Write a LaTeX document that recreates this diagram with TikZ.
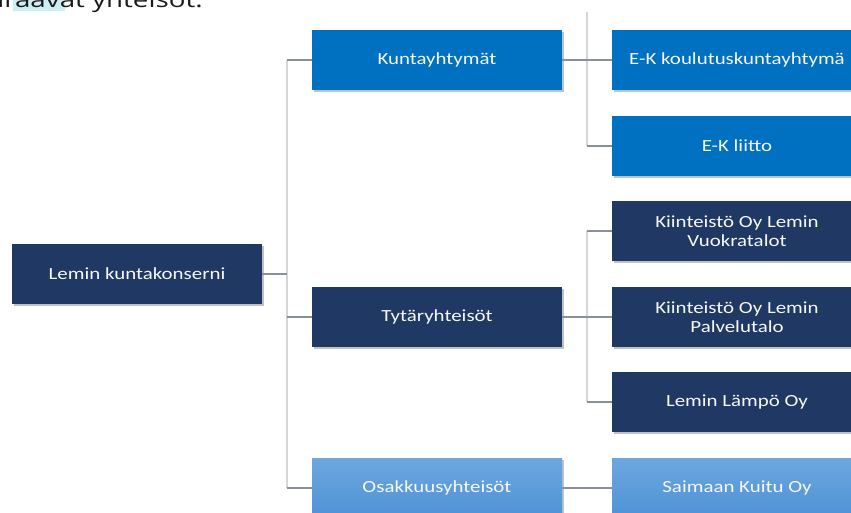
\documentclass[tikz,border=0pt]{standalone}
\usepackage{fontspec}
\setmainfont{Carlito}[FakeStretch=1.23]
\newfontfamily\topfont{Open Sans}[FakeStretch=1.3]
\usetikzlibrary{shadows}
\definecolor{navy}{HTML}{1F3864}
\definecolor{midblue}{HTML}{0070C0}
\definecolor{lbtop}{HTML}{6DA7DE}
\definecolor{lbbot}{HTML}{4E92D7}
\definecolor{hlcyan}{HTML}{CDEEF3}
\definecolor{vgray}{HTML}{D6D6D6}
\definecolor{hgray}{HTML}{8A9099}
\tikzset{
  box/.style={draw=none, minimum width=187.5pt, minimum height=45pt, inner sep=0pt,
    align=center, text=white!94!gray, font=\fontsize{12.75}{14.5}\selectfont,
    drop shadow={shadow xshift=1.2pt, shadow yshift=-1.5pt, opacity=0.35, fill=black!70}},
  navybox/.style={box, fill=navy},
  bluebox/.style={box, fill=midblue},
  lightbox/.style={box, top color=lbtop, bottom color=lbbot},
  vline/.style={draw=vgray, line width=0.8pt},
  hline/.style={draw=hgray, line width=0.8pt},
}
\begin{document}
\begin{tikzpicture}[x=0.75pt, y=-0.75pt]
\useasboundingbox (0,0) rectangle (851,512);
% top text (cut off)
\fill[hlcyan] (13,-2) rectangle (65,11);
\node[anchor=base east, inner sep=0pt, font=\topfont\fontsize{16}{18}\selectfont, text=black!90] (toptext) at (203,7) {seuraavat yhteisöt.};
% bus coordinates
\coordinate (b1top) at (287,60);
\coordinate (b1bot) at (287,488);
\coordinate (b2top) at (587,12);
\coordinate (b2bot) at (587,146);
\coordinate (b3top) at (587,231);
\coordinate (b3bot) at (587,402);
% connectors (drawn first, under boxes)
\draw[vline] (b1top) -- (b1bot);
\draw[vline] (b2top) -- (b2bot);
\draw[vline] (b3top) -- (b3bot);
% nodes
\node[navybox] (lemin) at (137,274) {Lemin kuntakonserni};
\node[bluebox] (kunta) at (437,60) {Kuntayhtymät};
\node[navybox] (tytar) at (437,317) {Tytäryhteisöt};
\node[lightbox] (osak) at (437,488) {Osakkuusyhteisöt};
\node[bluebox] (ekk) at (737,60) {E-K koulutuskuntayhtymä};
\node[bluebox] (ekl) at (737,146) {E-K liitto};
\node[navybox] (vuok) at (737,231) {Kiinteistö Oy Lemin\\Vuokratalot};
\node[navybox] (palv) at (737,317) {Kiinteistö Oy Lemin\\Palvelutalo};
\node[navybox] (lampo) at (737,402) {Lemin Lämpö Oy};
\node[lightbox] (saim) at (737,488) {Saimaan Kuitu Oy};
% horizontal connectors
\draw[hline] (lemin.east) -- (lemin.east -| b1top);
\draw[hline] (b1top) -- (kunta.west);
\draw[hline] (tytar.west -| b1top) -- (tytar.west);
\draw[hline] (b1bot) -- (osak.west);
\draw[hline] (kunta.east) -- (ekk.west);
\draw[hline] (b2bot) -- (ekl.west);
\draw[hline] (b3top) -- (vuok.west);
\draw[hline] (tytar.east) -- (palv.west);
\draw[hline] (b3bot) -- (lampo.west);
\draw[hline] (osak.east) -- (saim.west);
\end{tikzpicture}
\end{document}
